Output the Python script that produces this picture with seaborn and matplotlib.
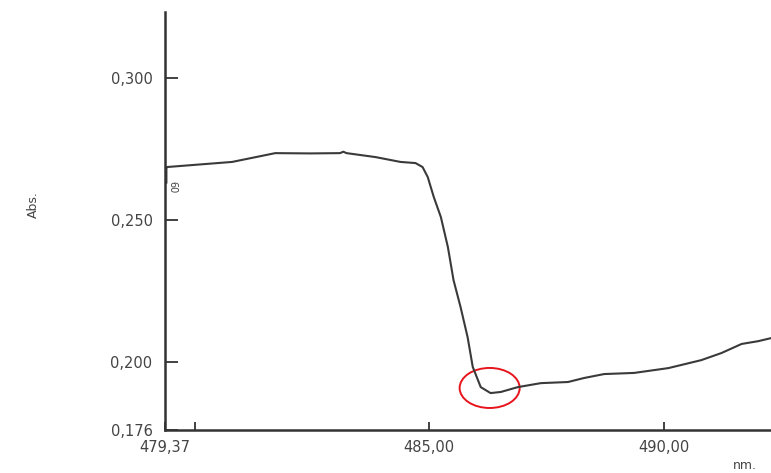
import matplotlib
matplotlib.use("Agg")
import matplotlib.pyplot as plt
from matplotlib.patches import Ellipse
import seaborn as sns
import pandas as pd

# ---- data ----
wavelength_nm = [479.40, 479.40, 479.41, 480.80, 481.72, 482.47, 483.10, 483.17, 483.24,
                 483.86, 484.39, 484.71, 484.86, 484.97, 485.10, 485.25, 485.40,
                 485.52, 485.67, 485.82, 485.93, 486.10, 486.31, 486.53, 486.89,
                 487.38, 487.96, 488.30, 488.73, 489.37, 490.10, 490.80, 491.23,
                 491.66, 492.02, 492.30]
absorbance = [0.2630, 0.2680, 0.2686, 0.2704, 0.2735, 0.2734, 0.2735, 0.2740, 0.2735,
              0.2721, 0.2704, 0.2700, 0.2686, 0.2651, 0.2580, 0.2510, 0.2404,
              0.2288, 0.2193, 0.2087, 0.1982, 0.1911, 0.1890, 0.1894, 0.1911,
              0.1925, 0.1929, 0.1943, 0.1957, 0.1961, 0.1978, 0.2006, 0.2031,
              0.2063, 0.2073, 0.2084]

x_ticks = [479.37, 480.0, 485.0, 490.0]
x_tick_labels = ["479,37", "", "485,00", "490,00"]
y_ticks = [0.176, 0.200, 0.250, 0.300]
y_tick_labels = ["0,176", "0,200", "0,250", "0,300"]

# highlighted minimum (red circle)
circle_center = (486.29, 0.1908)
circle_size = (1.28, 0.0141)

df = pd.DataFrame({"nm": wavelength_nm, "Abs": absorbance})

sns.set_theme(style="white")
plt.rcParams["font.family"] = ["DejaVu Sans"]

fig = plt.figure(figsize=(7.71, 4.73), dpi=100)
ax = fig.add_axes([165 / 771, 1 - 430 / 473, 1 - 165 / 771 + 0.002, (430 - 12) / 473])

sns.lineplot(data=df, x="nm", y="Abs", ax=ax, color="#3a3a3a", linewidth=1.5,
             sort=False, estimator=None)

ax.set_xlim(479.37, 492.32)
ax.set_ylim(0.176, 0.3232)

ax.set_xticks(x_ticks)
ax.set_xticklabels(x_tick_labels)
ax.set_yticks(y_ticks)
ax.set_yticklabels(y_tick_labels)
ax.tick_params(axis="both", direction="in", colors="#333333", labelcolor="#444444",
               labelsize=10.5, width=1.3, bottom=True, left=True)
ax.tick_params(axis="x", length=6, pad=7)
ax.tick_params(axis="y", length=9, pad=9)

for side in ["top", "right"]:
    ax.spines[side].set_visible(False)
for side in ["left", "bottom"]:
    ax.spines[side].set_color("#333333")
    ax.spines[side].set_linewidth(1.8)

ax.set_xlabel("")
ax.set_ylabel("")
ax.grid(False)

ell = Ellipse(circle_center, circle_size[0], circle_size[1], fill=False,
              edgecolor="#e8141c", linewidth=1.4)
ax.add_patch(ell)

ax.text(479.43, 0.2615, "60", rotation=270, fontsize=7, color="#444444",
        ha="left", va="center")

fig.text(33 / 771, 1 - 205 / 473, "Abs.", rotation=90, fontsize=9,
         color="#444444", ha="center", va="center")
fig.text(745 / 771, 1 - 465 / 473, "nm.", fontsize=9, color="#444444",
         ha="center", va="center")

fig.savefig("out.png", dpi=100)
